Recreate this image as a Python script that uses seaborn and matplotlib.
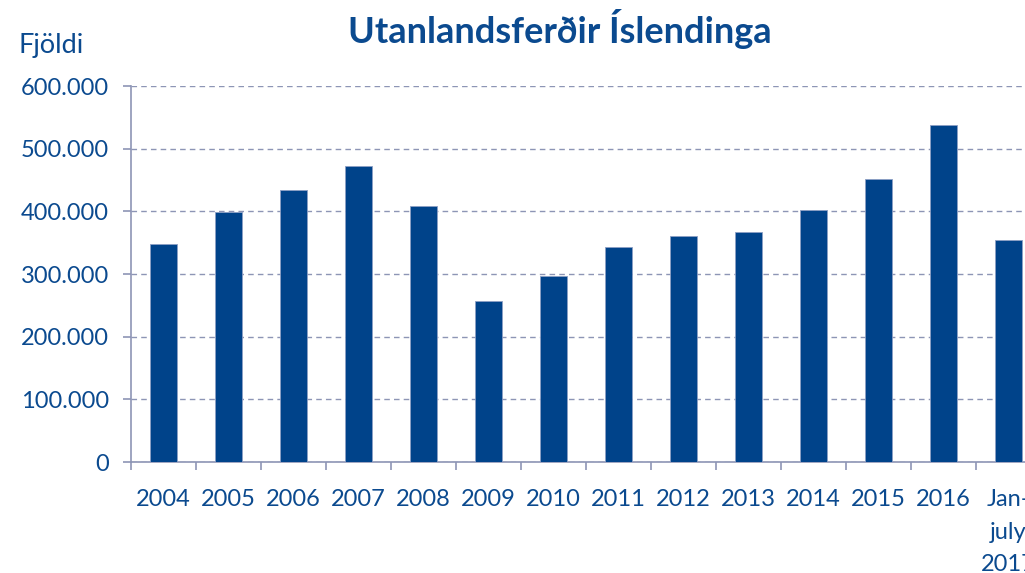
import matplotlib.pyplot as plt
import seaborn as sns
import numpy as np
from matplotlib.ticker import FuncFormatter, FixedLocator

years = ['2004', '2005', '2006', '2007', '2008', '2009', '2010', '2011',
         '2012', '2013', '2014', '2015', '2016', 'Jan-\njuly\n2017']
travels = [348000, 399000, 434000, 472000, 408000, 257000, 297000, 343000,
           361000, 367000, 402000, 452000, 538000, 354000]

bar_color = '#00438a'
text_color = '#0b4a8f'
line_color = '#8d95b5'

sns.set_style('white')
plt.rcParams['font.family'] = ['Lato', 'DejaVu Sans']

fig = plt.figure(figsize=(10.25, 5.73), dpi=100)
ax = fig.add_axes([0.1278, 0.1937, 0.8878, 0.6562])

sns.barplot(x=years, y=travels, color=bar_color, saturation=1, width=0.43,
            edgecolor='#8d9fc4', linewidth=0.6, ax=ax, zorder=3)

ax.set_ylim(0, 600000)
ax.set_xlim(-0.5, len(years) - 0.5)
ax.yaxis.set_major_locator(FixedLocator(np.arange(0, 600001, 100000)))
ax.yaxis.set_major_formatter(FuncFormatter(lambda v, p: f'{int(v):,}'.replace(',', '.')))
ax.grid(axis='y', color=line_color, linestyle=(0, (4, 3)), linewidth=1, zorder=0)

for s in ['top', 'right']:
    ax.spines[s].set_visible(False)
for s in ['left', 'bottom']:
    ax.spines[s].set_color(line_color)
    ax.spines[s].set_linewidth(1.2)

ax.tick_params(axis='y', length=6, width=1.2, color=line_color, labelsize=17,
               labelcolor=text_color, pad=10, left=True)
ax.set_xticks(np.arange(-0.5, len(years), 1), minor=True)
ax.tick_params(axis='x', which='minor', length=6, width=1.2, color=line_color,
               direction='out', bottom=True)
ax.tick_params(axis='x', which='major', length=0, labelsize=17,
               labelcolor=text_color, pad=19.5)
for lab in ax.get_xticklabels():
    lab.set_linespacing(1.68)

ax.set_xlabel('')
ax.set_ylabel('')

fig.text(0.546, 0.95, 'Utanlandsferðir Íslendinga', ha='center', va='center',
         fontsize=26, fontweight='bold', color=text_color)
fig.text(0.018, 0.92, 'Fjöldi', ha='left', va='center', fontsize=19.5,
         color=text_color)

fig.savefig('out.png', dpi=100)
